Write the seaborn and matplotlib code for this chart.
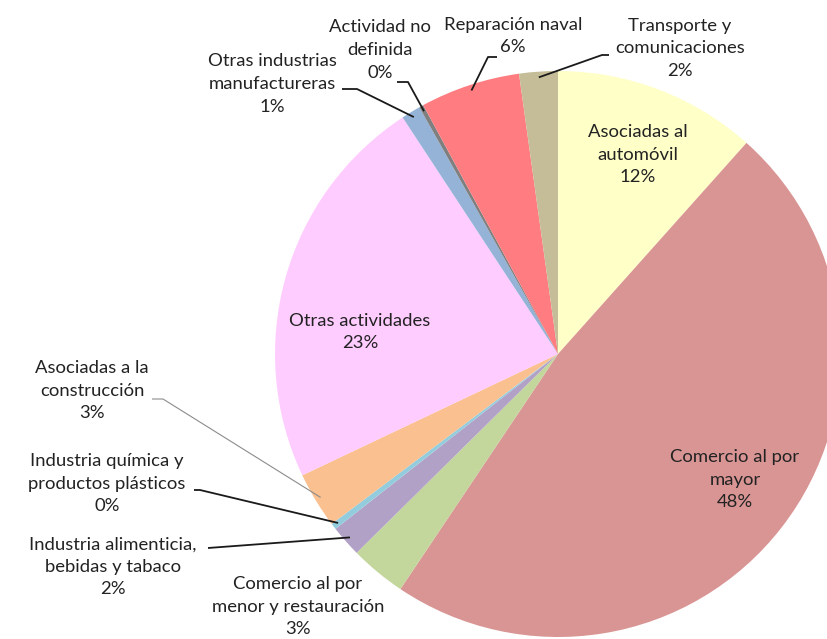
import numpy as np
import matplotlib
matplotlib.use("Agg")
import matplotlib.pyplot as plt
import seaborn as sns

# slice data, clockwise from 12 o'clock
names = ["Asociadas al\nautomóvil", "Comercio al por\nmayor",
         "Comercio al por\nmenor y restauración", "Industria alimenticia,\nbebidas y tabaco",
         "Industria química y\nproductos plásticos", "Asociadas a la\nconstrucción",
         "Otras actividades", "Otras industrias\nmanufactureras",
         "Actividad no\ndefinida", "Reparación naval", "Transporte y\ncomunicaciones"]
shares = [11.6, 47.8, 3.2, 1.8, 0.35, 3.2, 22.8, 1.1, 0.25, 5.7, 2.2]
colors = ["#FFFFC8", "#D99594", "#C3D69B", "#B2A1C7", "#93CDDD", "#FAC090",
          "#FFCCFF", "#95B3D7", "#7F7F7F", "#FF7C80", "#C4BD97"]

sns.set_theme(style="white")
plt.rcParams["font.family"] = ["Lato", "DejaVu Sans"]

# pixel geometry of the reference
CX, CY, R = 558, 354, 283
def px(x, y):
    return ((x - CX) / R, (CY - y) / R)

fig = plt.figure(figsize=(8.27, 6.39), dpi=100)
ax = fig.add_axes([0, 0, 1, 1])
wedges, _ = ax.pie(shares, colors=colors, startangle=90, counterclock=False,
                   radius=1, wedgeprops=dict(linewidth=0))
ax.set_xlim(px(0, 0)[0], px(827, 0)[0])
ax.set_ylim(px(0, 639)[1], px(0, 0)[1])
ax.axis("off")

total = sum(shares)
txt = [f"{n}\n{s / total * 100:.0f}%" for n, s in zip(names, shares)]

# label centres (pixels)
lab_pos = [(638, 155), (735, 480), (298, 607), (113, 567), (107, 484), (92, 391),
           (360, 332), (272, 84), (380, 50), (513, 36), (680, 48)]
# leader lines: index -> (elbow, stub end, colour)
leaders = {
    10: ((602, 55), (609, 55), "#1a1a1a"),
    9: ((488, 57), (497, 57), "#1a1a1a"),
    8: ((408, 82), (397, 82), "#1a1a1a"),
    7: ((357, 89), (342, 89), "#1a1a1a"),
    5: ((163, 399), (152, 399), "#8c8c8c"),
    4: ((200, 490), (194, 490), "#1a1a1a"),
    3: ((208, 548), (208, 548), "#1a1a1a"),
}

for i, w in enumerate(wedges):
    x, y = px(*lab_pos[i])
    ax.text(x, y, txt[i], ha="center", va="center", fontsize=13.3,
            color="#222222", linespacing=1.5)
    if i in leaders:
        elbow, stub, col = leaders[i]
        mid = np.deg2rad((w.theta1 + w.theta2) / 2)
        p0 = (0.98 * np.cos(mid), 0.98 * np.sin(mid))
        e = px(*elbow)
        s = px(*stub)
        lw = 0.8 if i == 5 else 1.3
        ax.plot([p0[0], e[0], s[0]], [p0[1], e[1], s[1]], color=col, lw=lw,
                solid_capstyle="butt")

fig.savefig("out.png", dpi=100)
